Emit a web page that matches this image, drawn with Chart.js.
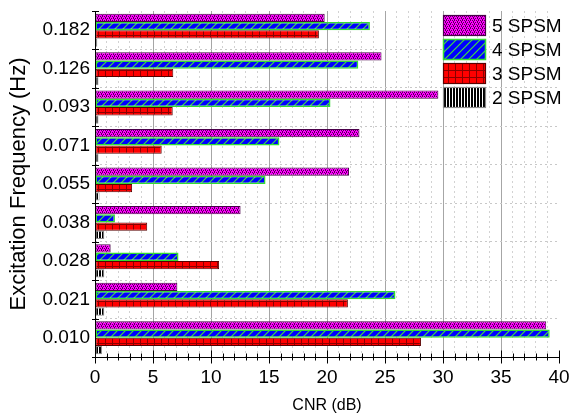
<!DOCTYPE html>
<html>
<head>
<meta charset="utf-8">
<script src="https://cdn.jsdelivr.net/npm/chart.js@4/dist/chart.umd.min.js"></script>
<style>
  html, body { margin: 0; padding: 0; background: #ffffff; }
  #wrap { width: 569px; height: 417px; position: relative; }
</style>
</head>
<body>
<div id="wrap"><canvas id="c"></canvas></div>
<script>
// ---- data ----
const categories = ['0.182', '0.126', '0.093', '0.071', '0.055', '0.038', '0.028', '0.021', '0.010'];
const seriesNames = ['5 SPSM', '4 SPSM', '3 SPSM', '2 SPSM'];
const spsm5 = [19.8, 24.7, 29.6, 22.8, 21.9, 12.55, 1.35, 7.1, 38.9];
const spsm4 = [23.7, 22.7, 20.3, 15.9, 14.7, 1.72, 7.2, 25.9, 39.2];
const spsm3 = [19.3, 6.75, 6.7, 5.75, 3.2, 4.5, 10.7, 21.8, 28.1];
const spsm2 = [0.2, 0.3, 0.3, 0.3, 0.4, 0.8, 0.8, 0.8, 0.6];
const xMin = 0, xMax = 40, xMajorStep = 5, xMinorStep = 1;
const xTitle = 'CNR (dB)';
const yTitle = 'Excitation Frequency (Hz)';

const FONT = "'Liberation Sans', Arial, sans-serif";

// ---- fill patterns ----
function makePattern(w, h, draw) {
  const c = document.createElement('canvas');
  c.width = w; c.height = h;
  const g = c.getContext('2d');
  draw(g, w, h);
  return g.createPattern(c, 'repeat');
}
const patMagenta = makePattern(4, 4, (g, w, h) => {
  g.fillStyle = '#ff00ff'; g.fillRect(0, 0, w, h);
  g.fillStyle = '#5a005a';
  g.fillRect(0, 0, 1, 1); g.fillRect(2, 0, 1, 1);
  g.fillRect(1, 1, 1, 1);
  g.fillRect(1, 2, 1, 1); g.fillRect(3, 2, 1, 1);
  g.fillRect(2, 3, 1, 1);
});
const patBlue = makePattern(8, 8, (g, w, h) => {
  g.fillStyle = '#0000ff'; g.fillRect(0, 0, w, h);
  g.strokeStyle = '#40dd40'; g.lineWidth = 1.2;
  for (let o = -8; o <= 8; o += 8) {
    g.beginPath(); g.moveTo(o - 1, h + 1); g.lineTo(o + w + 1, -1); g.stroke();
  }
});
const patRed = makePattern(7, 7, (g, w, h) => {
  g.fillStyle = '#ff0000'; g.fillRect(0, 0, w, h);
  g.fillStyle = '#8a0000';
  g.fillRect(0, 0, 1, h);
  g.fillRect(0, 0, w, 1);
});
const patBlack = makePattern(3, 3, (g, w, h) => {
  g.fillStyle = '#ffffff'; g.fillRect(0, 0, w, h);
  g.fillStyle = '#000000'; g.fillRect(0, 0, 2, h);
});

const fills = [patMagenta, patBlue, patRed, patBlack];
const borders = ['#4a004a', '#33dd33', '#5a0000', '#8c8c8c'];
const borderWidths = [1, 1.5, 1, 1];
const seriesValues = [spsm5, spsm4, spsm3, spsm2];

// ---- plugins: axes with crossing ticks, legend ----
const axesPlugin = {
  id: 'axesPlugin',
  afterDatasetsDraw(chart) {
    const { ctx, chartArea: a } = chart;
    const xs = chart.scales.x, ys = chart.scales.y;
    ctx.save();
    ctx.strokeStyle = '#000000';
    ctx.lineWidth = 1;
    ctx.beginPath();
    ctx.moveTo(a.left + 0.5, a.top); ctx.lineTo(a.left + 0.5, a.bottom);
    ctx.stroke();
    const n = categories.length;
    const step = (ys.getPixelForValue(n - 1) - ys.getPixelForValue(0)) / (n - 1);
    for (let i = 0; i <= n; i++) {
      const py = Math.round(ys.getPixelForValue(0) - step / 2 + i * step) + 0.5;
      ctx.beginPath(); ctx.moveTo(a.left - 3, py); ctx.lineTo(a.left + 4, py); ctx.stroke();
    }
    const by = Math.round(a.bottom) + 0.5;
    ctx.beginPath(); ctx.moveTo(a.left, by); ctx.lineTo(a.right, by); ctx.stroke();
    for (let v = xMin; v <= xMax; v += xMinorStep) {
      const px = Math.round(xs.getPixelForValue(v)) + 0.5;
      const major = v % xMajorStep === 0;
      ctx.beginPath();
      ctx.moveTo(px, by - (major ? 7 : 4));
      ctx.lineTo(px, by + (major ? 6 : 3));
      ctx.stroke();
    }
    ctx.restore();
  },
  afterDraw(chart) {
    const { ctx, chartArea: a } = chart;
    ctx.save();
    const bw = 43, bh = 21, gap = 24;
    const bx = a.right - 116, by0 = a.top + 4;
    ctx.font = '19px ' + FONT;
    ctx.textBaseline = 'middle';
    ctx.textAlign = 'left';
    chart.data.datasets.forEach((ds, i) => {
      const y = by0 + i * gap;
      ctx.fillStyle = ds.backgroundColor;
      ctx.fillRect(bx, y, bw, bh);
      ctx.strokeStyle = ds.borderColor;
      ctx.lineWidth = i === 1 ? 1.5 : 1.2;
      ctx.strokeRect(bx + 0.5, y + 0.5, bw - 1, bh - 1);
      ctx.fillStyle = '#000000';
      ctx.fillText(ds.label, bx + bw + 6, y + bh / 2 + 1);
    });
    ctx.restore();
  }
};

new Chart(document.getElementById('c'), {
  type: 'bar',
  data: {
    labels: categories,
    datasets: seriesNames.map((name, i) => ({
      label: name,
      data: seriesValues[i],
      backgroundColor: fills[i],
      borderColor: borders[i],
      borderWidth: borderWidths[i],
      borderSkipped: false,
      barPercentage: 1,
      categoryPercentage: 0.86
    }))
  },
  options: {
    indexAxis: 'y',
    responsive: true,
    maintainAspectRatio: false,
    animation: false,
    devicePixelRatio: 1,
    layout: { padding: { top: 11, right: 10, left: 0, bottom: 0 } },
    plugins: {
      legend: { display: false },
      tooltip: { enabled: false }
    },
    scales: {
      x: {
        type: 'linear',
        min: xMin,
        max: xMax,
        afterBuildTicks(scale) {
          const t = [];
          for (let v = xMin; v <= xMax; v += xMinorStep) t.push({ value: v });
          scale.ticks = t;
        },
        afterFit(scale) {
          scale.height = 60;
          scale.paddingLeft = 0; scale.paddingRight = 0;
        },
        ticks: {
          autoSkip: false,
          maxRotation: 0,
          padding: 9,
          color: '#000000',
          font: { family: FONT, size: 19 },
          callback: (v) => (v % xMajorStep === 0 ? String(v) : '')
        },
        grid: {
          drawTicks: false,
          lineWidth: 1,
          color: (ctx) => {
            const v = ctx.tick ? ctx.tick.value : 0;
            if (v === xMin || v === xMax) return 'rgba(0,0,0,0)';
            return v % xMajorStep === 0 ? '#a6a6a6' : '#d2d2d2';
          }
        },
        border: {
          display: false,
          dash: (ctx) => {
            const v = ctx.tick ? ctx.tick.value : 0;
            return v % xMajorStep === 0 ? [] : [2, 3];
          }
        },
        title: {
          display: true,
          text: xTitle,
          color: '#000000',
          font: { family: FONT, size: 16 },
          padding: { top: 0, bottom: 2 }
        }
      },
      y: {
        type: 'category',
        afterFit(scale) {
          scale.width = 95;
          scale.paddingTop = 0; scale.paddingBottom = 0;
        },
        ticks: {
          padding: 5,
          color: '#000000',
          font: { family: FONT, size: 19 }
        },
        grid: {
          drawTicks: false,
          offset: true,
          lineWidth: 1,
          color: (ctx) => (ctx.index === 0 ? 'rgba(0,0,0,0)' : '#c8c8c8')
        },
        border: { display: false, dash: [2, 3] },
        title: {
          display: true,
          text: yTitle,
          color: '#000000',
          font: { family: FONT, size: 22 },
          padding: { top: 6, bottom: 0 }
        }
      }
    }
  },
  plugins: [axesPlugin]
});
</script>
</body>
</html>
